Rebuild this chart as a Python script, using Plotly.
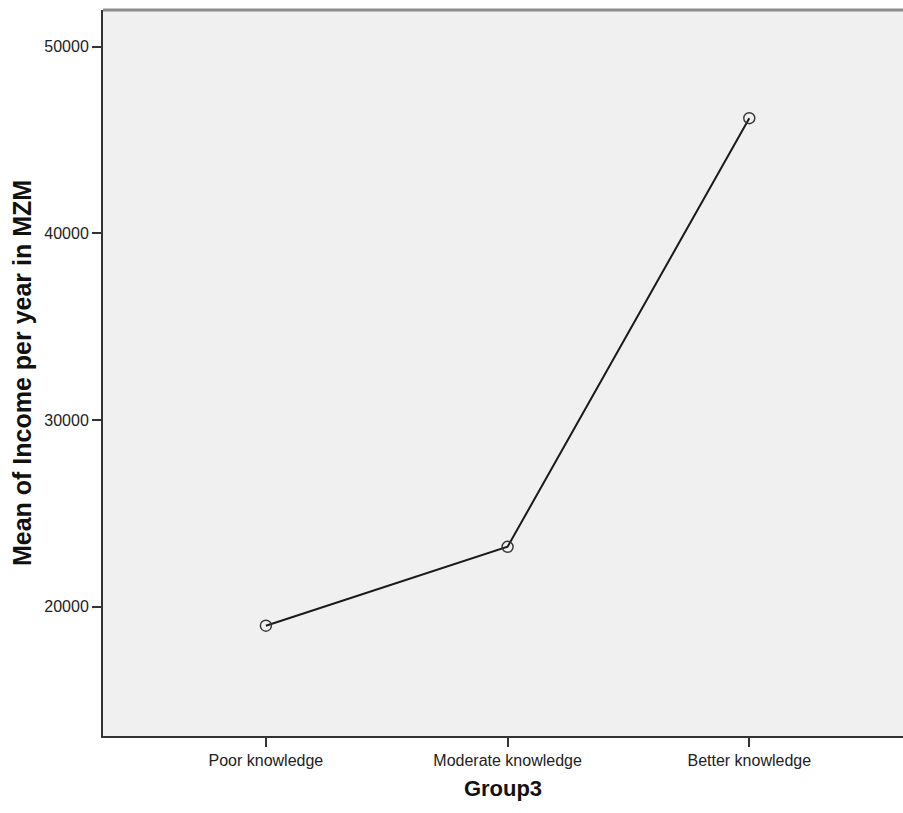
import plotly.graph_objects as go

categories = ["Poor knowledge", "Moderate knowledge", "Better knowledge"]
mean_income = [18980, 23210, 46170]
y_ticks = [20000, 30000, 40000, 50000]
y_tick_labels = ["20000", "30000", "40000", "50000"]

fig = go.Figure()
fig.add_trace(go.Scatter(
    x=categories, y=mean_income, mode="lines+markers",
    line=dict(color="#1a1a1a", width=2),
    marker=dict(symbol="circle-open", size=11, color="#333333", line=dict(width=1.4)),
    showlegend=False, cliponaxis=False,
))

font_family = "Liberation Sans, Arial, sans-serif"
fig.update_layout(
    width=903, height=813,
    margin=dict(l=103, r=0, t=10, b=77),
    paper_bgcolor="white", plot_bgcolor="#f0f0f0",
    font=dict(family=font_family, color="#222222"),
    xaxis=dict(
        type="category", range=[-0.674, 2.636],
        showgrid=False, zeroline=False,
        showline=True, linecolor="#333333", linewidth=2,
        ticks="outside", ticklen=9, tickwidth=1.5, tickcolor="#333333",
        tickfont=dict(size=16, color="#222222"),
        title=dict(text="<b>Group3</b>", font=dict(size=22, color="#111111"), standoff=12),
    ),
    yaxis=dict(
        range=[13073, 51966], tickvals=y_ticks, ticktext=y_tick_labels,
        showgrid=False, zeroline=False,
        showline=True, linecolor="#333333", linewidth=2,
        ticks="outside", ticklen=9, tickwidth=2, tickcolor="#333333",
        tickfont=dict(size=16, color="#222222"),
        title=dict(text="<b>Mean of Income per year in MZM</b>", font=dict(size=25, color="#111111"), standoff=6),
    ),
    shapes=[dict(type="line", xref="paper", yref="paper", x0=0, x1=1, y0=1, y1=1,
                 line=dict(color="#8c8c8c", width=3))],
)

fig.write_html(
    "out.html",
    config={"displayModeBar": False},
    post_script="document.body.style.margin='0';document.body.style.overflow='hidden';",
)
